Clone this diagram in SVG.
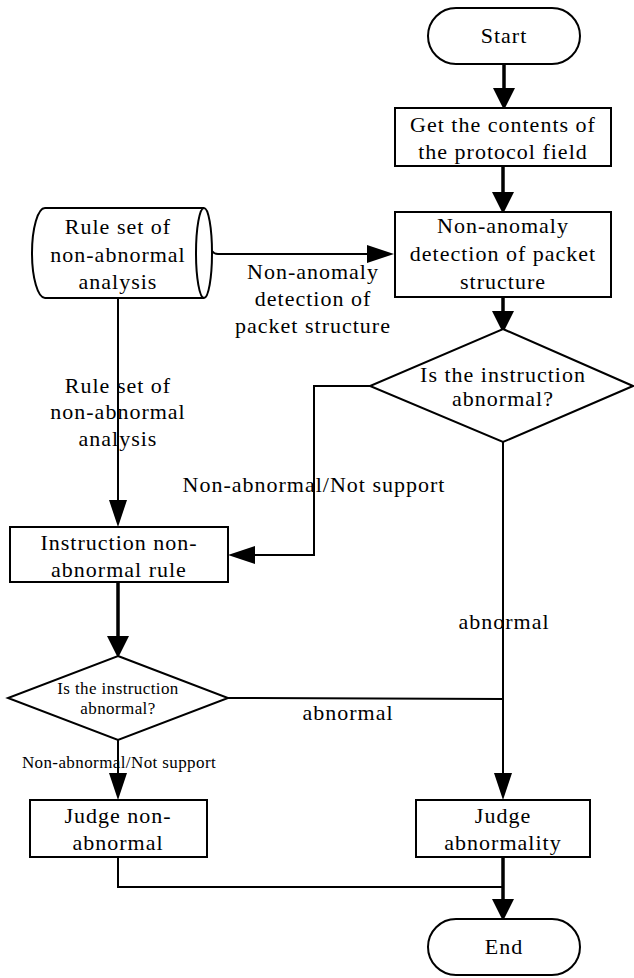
<svg xmlns="http://www.w3.org/2000/svg" width="634" height="978" viewBox="0 0 634 978">
  <style>
    .shape { fill: #ffffff; stroke: #000000; stroke-width: 2; }
    .t { font-family: "Liberation Serif", "Times New Roman", Tinos, "DejaVu Serif", "Noto Serif", serif; font-size: 22px; letter-spacing: 1px; fill: #000000; text-anchor: middle; }
    .ts { font-family: "Liberation Serif", "Times New Roman", Tinos, "DejaVu Serif", "Noto Serif", serif; font-size: 17px; letter-spacing: 0.4px; fill: #000000; text-anchor: middle; }
    .link { fill: none; stroke: #000000; stroke-width: 2; }
    .bold { stroke-width: 3.5; }
  </style>
  <defs>
    <marker id="headBold" markerUnits="userSpaceOnUse" markerWidth="22" markerHeight="22" refX="0" refY="10" orient="auto" viewBox="0 0 20 20" overflow="visible">
      <path d="M0,0 L20,10 L0,20 Z" fill="#000000"/>
    </marker>
    <marker id="headThin" markerUnits="userSpaceOnUse" markerWidth="28" markerHeight="18" refX="0" refY="9" orient="auto" viewBox="0 0 27 18" overflow="visible">
      <path d="M0,0 L27,9 L0,18 Z" fill="#000000"/>
    </marker>
  </defs>

  <rect width="634" height="978" fill="#ffffff"/>

  <!-- connectors -->
  <g id="connectors">
    <path class="link bold" d="M504,64 V88" marker-end="url(#headBold)"/>
    <path class="link bold" d="M503,166 V192" marker-end="url(#headBold)"/>
    <path class="link" d="M212,251 Q214,254 218,254 H367" marker-end="url(#headThin)"/>
    <path class="link bold" d="M503,297 V311" marker-end="url(#headBold)"/>
    <path class="link" d="M370,386 H314 V555 H255" marker-end="url(#headThin)"/>
    <path class="link" d="M118,298 V500" marker-end="url(#headThin)"/>
    <path class="link bold" d="M118,582 V636" marker-end="url(#headBold)"/>
    <path class="link" d="M503,442 V773" marker-end="url(#headThin)"/>
    <path class="link" d="M228,698 L503,699"/>
    <path class="link" d="M118,740 V773" marker-end="url(#headThin)"/>
    <path class="link" d="M118,857 V887 H503"/>
    <path class="link bold" d="M503,857 V899" marker-end="url(#headBold)"/>

    <!-- connector labels -->
    <text class="t" x="313" y="279">Non-anomaly</text>
    <text class="t" x="313" y="306">detection of</text>
    <text class="t" x="313" y="333">packet structure</text>
    <text class="t" x="118" y="393">Rule set of</text>
    <text class="t" x="118" y="419">non-abnormal</text>
    <text class="t" x="118" y="446">analysis</text>
    <text class="t" x="314" y="492">Non-abnormal/Not support</text>
    <text class="t" x="504" y="629">abnormal</text>
    <text class="t" x="348" y="720">abnormal</text>
    <text class="ts" x="119" y="768">Non-abnormal/Not support</text>
  </g>

  <!-- nodes -->
  <g id="start">
    <rect class="shape" x="428" y="8" width="152" height="56" rx="28" ry="28"/>
    <text class="t" x="504" y="43">Start</text>
  </g>

  <g id="get-contents">
    <rect class="shape" x="395" y="108" width="216" height="58"/>
    <text class="t" x="503" y="132">Get the contents of</text>
    <text class="t" x="503" y="159">the protocol field</text>
  </g>

  <g id="packet-check">
    <rect class="shape" x="395" y="212" width="216" height="85"/>
    <text class="t" x="503" y="233">Non-anomaly</text>
    <text class="t" x="503" y="261">detection of packet</text>
    <text class="t" x="503" y="289">structure</text>
  </g>

  <g id="rule-set">
    <path class="shape" d="M45,208 H204 A8,45 0 0 1 204,298 H45 A13,45 0 0 1 45,208 Z"/>
    <path class="shape" fill="none" d="M204,208 A8,45 0 0 0 204,298"/>
    <text class="t" x="118" y="234">Rule set of</text>
    <text class="t" x="118" y="262">non-abnormal</text>
    <text class="t" x="118" y="289">analysis</text>
  </g>

  <g id="decision-upper">
    <path class="shape" d="M503,329 L633,386 L503,442 L370,386 Z"/>
    <text class="t" x="503" y="382">Is the instruction</text>
    <text class="t" x="503" y="406">abnormal?</text>
  </g>

  <g id="instruction-rule">
    <rect class="shape" x="10" y="527" width="218" height="55"/>
    <text class="t" x="119" y="550">Instruction non-</text>
    <text class="t" x="119" y="577">abnormal rule</text>
  </g>

  <g id="decision-lower">
    <path class="shape" d="M118,656 L228,698 L118,740 L8,698 Z"/>
    <text class="ts" x="118" y="694">Is the instruction</text>
    <text class="ts" x="118" y="714">abnormal?</text>
  </g>

  <g id="judge-normal">
    <rect class="shape" x="30" y="800" width="177" height="57"/>
    <text class="t" x="118" y="823">Judge non-</text>
    <text class="t" x="118" y="850">abnormal</text>
  </g>

  <g id="judge-abnormal">
    <rect class="shape" x="416" y="800" width="174" height="57"/>
    <text class="t" x="503" y="823">Judge</text>
    <text class="t" x="503" y="850">abnormality</text>
  </g>

  <g id="end">
    <rect class="shape" x="428" y="919" width="152" height="56" rx="28" ry="28"/>
    <text class="t" x="504" y="954">End</text>
  </g>
</svg>
